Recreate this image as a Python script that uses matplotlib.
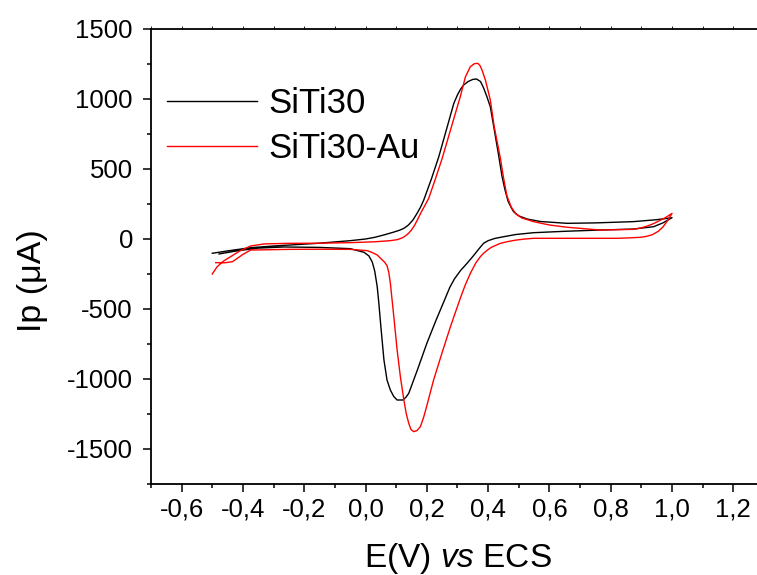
import matplotlib
matplotlib.use("Agg")
import matplotlib.pyplot as plt
from matplotlib.ticker import FixedLocator, FixedFormatter

plt.rcParams['font.family'] = ['Liberation Sans', 'DejaVu Sans']
plt.rcParams['axes.unicode_minus'] = False
plt.rcParams['mathtext.fontset'] = 'custom'
plt.rcParams['mathtext.rm'] = 'Liberation Sans'
plt.rcParams['mathtext.it'] = 'Liberation Sans:italic'

# ---- data ----
siti30_E = [-0.50, -0.45, -0.375, -0.30, -0.157, -0.05, 0.00, 0.03, 0.06, 0.09, 0.11, 0.125,
            0.14, 0.155, 0.168, 0.18, 0.19, 0.215, 0.239, 0.265, 0.288, 0.30, 0.31, 0.32,
            0.335, 0.35, 0.362, 0.375, 0.385, 0.396, 0.407, 0.42, 0.434, 0.445, 0.455, 0.465,
            0.475, 0.483, 0.50, 0.527, 0.57, 0.657, 0.75, 0.874, 0.95, 1.00,
            0.97, 0.94, 0.874, 0.765, 0.65, 0.548, 0.49, 0.44, 0.42, 0.40, 0.385, 0.37,
            0.35, 0.331, 0.31, 0.29, 0.275, 0.26, 0.23, 0.20, 0.17, 0.141, 0.132, 0.122, 0.103,
            0.092, 0.081, 0.07, 0.06, 0.05, 0.043, 0.038, 0.03, 0.022, 0.011, -0.005, -0.05,
            -0.15, -0.266, -0.35, -0.42, -0.478]
siti30_I = [-102, -85, -62, -50, -31, -12, 0, 12, 29, 48, 62, 76,
            100, 137, 183, 230, 279, 430, 588, 790, 969, 1030, 1070, 1100,
            1125, 1140, 1143, 1125, 1080, 1016, 945, 780, 600, 450, 350, 270,
            225, 195, 165, 143, 125, 112, 115, 124, 138, 152,
            115, 88, 71, 64, 55, 45, 32, 12, 3, -12, -31, -70,
            -125, -174, -225, -285, -345, -424, -580, -745, -930, -1102, -1130, -1150, -1150,
            -1125, -1079, -1007, -864, -626, -450, -340, -230, -165, -121, -95, -69,
            -60, -57, -65, -85, -107]

sitiau_E = [-0.50, -0.485, -0.465, -0.44, -0.41, -0.375, -0.33, -0.25, -0.15, -0.05, 0.03, 0.08,
            0.103, 0.12, 0.13, 0.14, 0.15, 0.16, 0.17, 0.18, 0.19, 0.206, 0.228, 0.25,
            0.28, 0.309, 0.326, 0.342, 0.355, 0.366, 0.373, 0.38, 0.391, 0.407, 0.42, 0.44, 0.45,
            0.461, 0.475, 0.49, 0.51, 0.548, 0.60, 0.657, 0.765, 0.874, 0.90, 0.92, 0.94,
            0.96, 0.98, 1.00,
            0.985, 0.97, 0.955, 0.935, 0.915, 0.896, 0.86, 0.82, 0.70, 0.548, 0.52, 0.49,
            0.465, 0.44, 0.425, 0.41, 0.40, 0.385, 0.375, 0.36, 0.342, 0.325, 0.309, 0.277,
            0.25, 0.222, 0.20, 0.19, 0.179, 0.168, 0.157, 0.148, 0.141, 0.133, 0.125, 0.114,
            0.103, 0.092, 0.081, 0.076, 0.07, 0.062, 0.05, 0.038, 0.02, 0.005, -0.05, -0.15,
            -0.25, -0.375, -0.40, -0.434, -0.46, -0.489]
sitiau_I = [-250, -200, -160, -126, -85, -50, -35, -31, -30, -26, -20, -12,
            -5, 8, 22, 40, 65, 98, 140, 185, 225, 290, 430, 576,
            800, 1016, 1159, 1231, 1252, 1255, 1240, 1207, 1136, 993, 800, 576, 440,
            310, 230, 180, 150, 124, 100, 84, 64, 69, 80, 93, 110,
            132, 155, 183,
            130, 85, 55, 30, 18, 12, 8, 5, 5, 5, 0, -8,
            -18, -31, -45, -60, -75, -102, -125, -170, -245, -330, -424, -626,
            -810, -1007, -1190, -1270, -1340, -1368, -1376, -1360, -1317, -1250, -1150, -990,
            -793, -550, -317, -240, -190, -165, -140, -114, -95, -83, -74, -73,
            -74, -79, -110, -162, -170, -169]

series_labels = ["SiTi30", "SiTi30-Au"]
series_colors = ["black", "red"]

x_major = [-0.6, -0.4, -0.2, 0.0, 0.2, 0.4, 0.6, 0.8, 1.0, 1.2]
x_major_labels = ["-0,6", "-0,4", "-0,2", "0,0", "0,2", "0,4", "0,6", "0,8", "1,0", "1,2"]
x_minor = [-0.7, -0.5, -0.3, -0.1, 0.1, 0.3, 0.5, 0.7, 0.9, 1.1, 1.3]
y_major = [-1500, -1000, -500, 0, 500, 1000, 1500]
y_major_labels = ["-1500", "-1000", "-500", "0", "500", "1000", "1500"]
y_minor = [-1750, -1250, -750, -250, 250, 750, 1250]

W, H = 757, 575
fig = plt.figure(figsize=(W / 100, H / 100), dpi=100)
left_px, right_px, top_px, bottom_px = 151, 764, 29, 484
ax = fig.add_axes([left_px / W, 1 - bottom_px / H,
                   (right_px - left_px) / W, (bottom_px - top_px) / H])

ax.plot(siti30_E, siti30_I, color=series_colors[0], lw=1.0, label=series_labels[0])
ax.plot(sitiau_E, sitiau_I, color=series_colors[1], lw=1.0, label=series_labels[1])

ax.set_xlim(-0.7, 1.3)
ax.set_ylim(-1750, 1500)

ax.xaxis.set_major_locator(FixedLocator(x_major))
ax.xaxis.set_major_formatter(FixedFormatter(x_major_labels))
ax.xaxis.set_minor_locator(FixedLocator(x_minor))
ax.yaxis.set_major_locator(FixedLocator(y_major))
ax.yaxis.set_major_formatter(FixedFormatter(y_major_labels))
ax.yaxis.set_minor_locator(FixedLocator(y_minor))

for s in ['left', 'bottom', 'top']:
    ax.spines[s].set_linewidth(1.3)
ax.spines['right'].set_visible(False)

ax.tick_params(axis='x', which='major', direction='out', length=6, width=1.1,
               labelsize=18.5, pad=3.5)
ax.tick_params(axis='x', which='minor', direction='out', length=3, width=1.1)
ax.tick_params(axis='x', which='both', top=True)
ax.tick_params(axis='y', which='major', direction='out', length=6, width=1.1,
               labelsize=18.5, pad=7)
ax.tick_params(axis='y', which='minor', direction='out', length=3, width=1.1)
# tiny ticks on top spine
for t in ax.xaxis.get_major_ticks() + ax.xaxis.get_minor_ticks():
    t.tick2line.set_markersize(2)
    t.tick2line.set_markeredgewidth(0.6)

leg = ax.legend(loc='upper left', bbox_to_anchor=(167 / W, 1 - 87 / H),
                bbox_transform=fig.transFigure, frameon=False, fontsize=25,
                handlelength=2.6, handletextpad=0.32, labelspacing=0.36,
                borderpad=0, borderaxespad=0)

fig.text(32 / W, 1 - 281 / H, "Ip (\u03bcA)", rotation=90, ha='center', va='center',
         fontsize=24.5)
fig.text(458 / W, 1 - 559 / H, r"E(V) $\it{vs}$ ECS", ha='center', va='center',
         fontsize=24)

fig.savefig("out.png", dpi=100)
